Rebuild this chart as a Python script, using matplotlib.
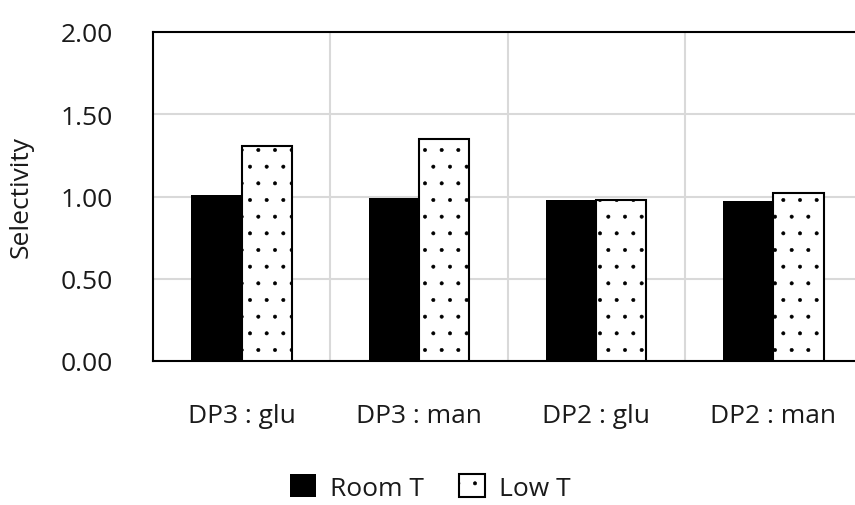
import matplotlib
matplotlib.use("Agg")
import matplotlib.pyplot as plt
from matplotlib.patches import Patch
import numpy as np

plt.rcParams['font.family'] = ['Open Sans', 'DejaVu Sans']
plt.rcParams['hatch.linewidth'] = 0.4
plt.rcParams['hatch.color'] = 'black'

categories = ["DP3 : glu", "DP3 : man", "DP2 : glu", "DP2 : man"]
room_t = [1.01, 0.99, 0.98, 0.97]
low_t = [1.31, 1.35, 0.98, 1.02]
series_names = ["Room T", "Low T"]
yticks = [0.0, 0.5, 1.0, 1.5, 2.0]

FS = 19

fig = plt.figure(figsize=(8.55, 5.06), dpi=100)
ax = fig.add_axes([153 / 855, 144 / 506, 709 / 855, 329 / 506])

x = np.arange(len(categories))
w = 0.284
ax.bar(x - w / 2, room_t, w, color="black", edgecolor="black", linewidth=0,
       zorder=3)
ax.bar(x + w / 2, low_t, w, color="white", edgecolor="black", linewidth=1.5,
       hatch=".", zorder=3)

ax.set_xlim(-0.5, len(categories) - 0.5)
ax.set_ylim(0, 2.0)
ax.set_yticks(yticks)
ax.set_yticklabels([f"{v:.2f}" for v in yticks])
ax.set_xticks(x)
ax.set_xticklabels(categories)
ax.set_xticks(x[:-1] + 0.5, minor=True)
ax.tick_params(axis="both", which="both", length=0, labelsize=FS,
               labelcolor="#1a1a1a")
ax.tick_params(axis="y", pad=29)
ax.tick_params(axis="x", pad=30)

# light gray grid: horizontal at the value ticks, vertical between categories
ax.grid(axis="y", which="major", color="#d9d9d9", linewidth=1.5, zorder=0)
ax.grid(axis="x", which="minor", color="#d9d9d9", linewidth=1.5, zorder=0)
for side in ["left", "bottom", "top", "right"]:
    ax.spines[side].set_linewidth(1.5)
    ax.spines[side].set_color("black")

ax.set_ylabel("Selectivity", fontsize=FS, color="#1a1a1a")
ax.yaxis.set_label_coords(-0.168, 0.5)

handles = [
    Patch(facecolor="black", edgecolor="black", linewidth=0),
    Patch(facecolor="white", edgecolor="black", linewidth=1.5, hatch="."),
]
fig.legend(handles, series_names, loc="center", bbox_to_anchor=(0.503, 0.035),
           ncol=2, frameon=False, fontsize=FS, handlelength=1.0,
           handleheight=1.0, columnspacing=1.35, handletextpad=0.5,
           labelcolor="#1a1a1a")

fig.savefig("out.png", dpi=100)
